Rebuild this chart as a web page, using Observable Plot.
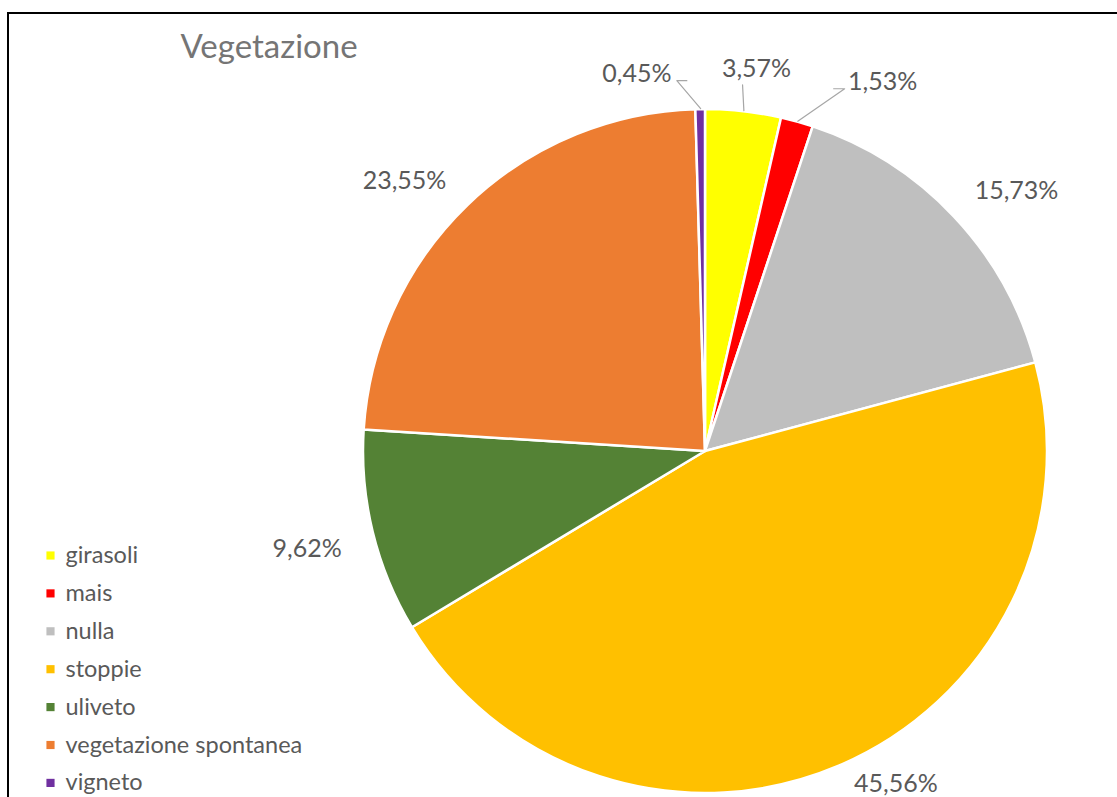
<!DOCTYPE html>
<html>
<head>
<meta charset="utf-8">
<script src="https://cdn.jsdelivr.net/npm/d3@7"></script>
<script src="https://cdn.jsdelivr.net/npm/@observablehq/plot@0.6"></script>
<style>
  body { margin: 0; background: #fff; }
  #wrap { position: relative; width: 1117px; height: 797px; overflow: hidden; background: #fff; }
  #wrap svg { position: absolute; left: 0; top: 0; }
  #frame { position: absolute; left: 7px; top: 12px; width: 1200px; height: 900px; border: 2px solid #000; box-sizing: border-box; }
</style>
</head>
<body>
<div id="wrap"></div>
<script>
// ---- data ----
const title = "Vegetazione";
const categories = ["girasoli", "mais", "nulla", "stoppie", "uliveto", "vegetazione spontanea", "vigneto"];
const percentages = [3.57, 1.53, 15.73, 45.56, 9.62, 23.55, 0.45];
const colors = ["#FFFF00", "#FF0000", "#BFBFBF", "#FFC000", "#548235", "#ED7D31", "#7030A0"];

// ---- layout ----
const W = 1117, H = 797;
const cx = 705, cy = 451, R = 342;
// label placement: angle (deg clockwise from top) and radius from centre
const labelPlacement = {
  "girasoli": {angle: 7.6, r: 386},
  "mais": {angle: 25.6, r: 410},
  "nulla": {angle: 50, r: 406},
  "stoppie": {angle: 150.2, r: 383},
  "uliveto": {angle: 256.3, r: 410},
  "vegetazione spontanea": {angle: 312, r: 405},
  "vigneto": {angle: -10.3, r: 384}
};
// leader elbow offsets relative to label centre (for small slices)
const leaders = {
  "vigneto": [[40, 7], [50, 7]],
  "girasoli": [[-14, 16]],
  "mais": [[-38, 7], [-49, 7]]
};

const fmt = v => v.toFixed(2).replace(".", ",") + "%";
const rows = categories.map((c, i) => ({category: c, value: percentages[i], label: fmt(percentages[i])}));
const arcs = d3.pie().sort(null).value(d => d.value)(rows);
const rad = a => a * Math.PI / 180;
const polar = (angleDeg, r) => [cx + r * Math.sin(rad(angleDeg)), cy - r * Math.cos(rad(angleDeg))];

const labels = arcs.map(a => {
  const p = labelPlacement[a.data.category];
  const [x, y] = polar(p.angle, p.r);
  return {x, y, text: a.data.label, category: a.data.category, mid: (a.startAngle + a.endAngle) / 2};
});

const leaderPts = [];
labels.forEach(l => {
  const off = leaders[l.category];
  if (!off) return;
  const edge = [cx + (R + 1) * Math.sin(l.mid), cy - (R + 1) * Math.cos(l.mid)];
  leaderPts.push({x: edge[0], y: edge[1], k: l.category});
  off.forEach(([dx, dy]) => leaderPts.push({x: l.x + dx, y: l.y + dy, k: l.category}));
});

const legendRows = categories.map((c, i) => ({category: c, y: 555 + i * 37.9}));

function pieMark(index, scales) {
  const px = scales.x(cx), py = scales.y(cy), pr = scales.x(cx + R) - scales.x(cx);
  const arc = d3.arc().innerRadius(0).outerRadius(pr);
  const g = d3.create("svg:g").attr("transform", `translate(${px},${py})`);
  g.selectAll("path").data(arcs).join("path")
    .attr("d", arc)
    .attr("fill", d => scales.color(d.data.category))
    .attr("stroke", "#fff")
    .attr("stroke-width", 2.5)
    .attr("stroke-linejoin", "round");
  return g.node();
}

const chart = Plot.plot({
  width: W,
  height: H,
  margin: 0,
  style: {fontFamily: "Lato, 'Open Sans', sans-serif", background: "transparent"},
  x: {domain: [0, W], range: [0, W], axis: null},
  y: {domain: [0, H], range: [0, H], axis: null},
  color: {domain: categories, range: colors},
  marks: [
    pieMark,
    Plot.line(leaderPts, {x: "x", y: "y", z: "k", stroke: "#A6A6A6", strokeWidth: 1.2}),
    Plot.text(labels, {x: "x", y: "y", text: "text", fill: "#595959", fontSize: 25, textAnchor: "middle", lineAnchor: "middle"}),
    Plot.text([title], {x: 180, y: 47, text: d => d, fill: "#757575", fontSize: 33, textAnchor: "start", lineAnchor: "middle"}),
    Plot.dot(legendRows, {x: 50, y: "y", fill: "category", symbol: "square", r: 4.6, stroke: null}),
    Plot.text(legendRows, {x: 65, y: "y", text: "category", fill: "#595959", fontSize: 23.5, textAnchor: "start", lineAnchor: "middle"})
  ]
});

const wrap = document.getElementById("wrap");
wrap.appendChild(chart);
const frame = document.createElement("div");
frame.id = "frame";
wrap.appendChild(frame);
</script>
</body>
</html>
